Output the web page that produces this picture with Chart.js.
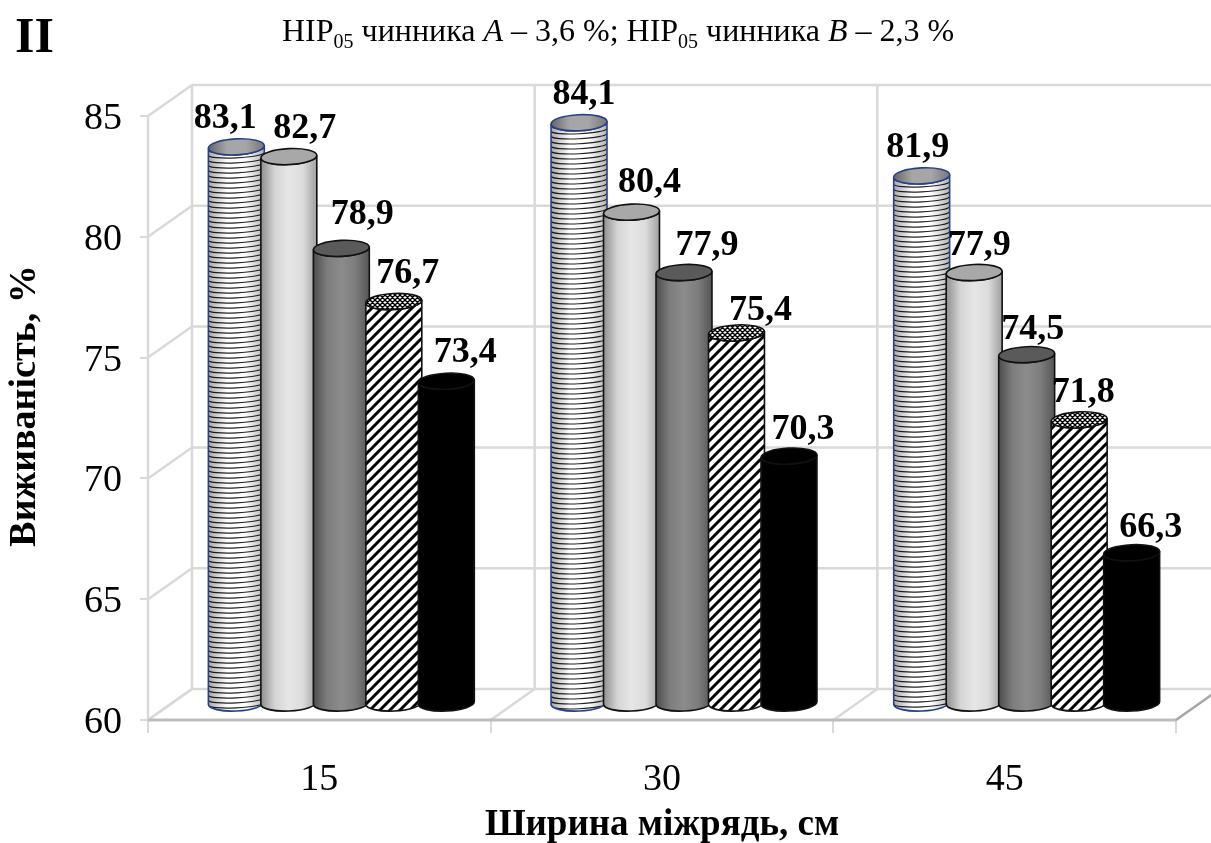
<!DOCTYPE html>
<html>
<head>
<meta charset="utf-8">
<title>Виживаність</title>
<script src="https://cdn.jsdelivr.net/npm/chart.js@4"></script>
<style>
  body { margin: 0; background: #fff; }
  canvas { display: block; }
</style>
</head>
<body>
<canvas id="chart" width="1211" height="843"></canvas>
<script>
// --- DATA ---
const categories = ['15', '30', '45'];
const seriesA = [83.1, 84.1, 81.9];
const seriesB = [82.7, 80.4, 77.9];
const seriesC = [78.9, 77.9, 74.5];
const seriesD = [76.7, 75.4, 71.8];
const seriesE = [73.4, 70.3, 66.3];
const allSeries = [seriesA, seriesB, seriesC, seriesD, seriesE];
const yTickValues = [60, 65, 70, 75, 80, 85];

// hand placed data labels, same as the original (dx, dy from cylinder cap)
const labelShiftX = [[-11, 5, -4], [16, 18, 5], [21, 23, 6], [14, 24, 4], [19, 14, 19]];
const labelShiftY = [[-28, -28, -28], [-28, -29, -27], [-34, -27, -25], [-28, -22, -27], [-29, -26, -25]];

// --- 3D LOOK ---
const SERIF = '"Liberation Serif", serif';
const depthX = 44, depthY = -31;   // front plane to back wall
const barDX = 22, barDY = -15;     // front plane to cylinder plane
const capRy = 8, tilt = -0.05;
const gridColor = '#d9d9d9';

function makeHatch(size, lineWidth, cross) {
  const c = document.createElement('canvas');
  c.width = c.height = size;
  const g = c.getContext('2d');
  g.fillStyle = '#fff';
  g.fillRect(0, 0, size, size);
  g.strokeStyle = '#000';
  g.lineWidth = lineWidth;
  g.beginPath();
  g.moveTo(-size, size); g.lineTo(size, -size);
  g.moveTo(0, size * 2); g.lineTo(size * 2, 0);
  g.moveTo(-size, size * 2); g.lineTo(size * 2, -size);
  if (cross) {
    g.moveTo(0, 0); g.lineTo(size, size);
    g.moveTo(-size, 0); g.lineTo(size, size * 2);
    g.moveTo(0, -size); g.lineTo(size * 2, size);
  }
  g.stroke();
  return c;
}

function sideGradient(ctx, cx, rx, stops) {
  const grad = ctx.createLinearGradient(cx - rx, 0, cx + rx, 0);
  stops.forEach((s, i) => grad.addColorStop(i / (stops.length - 1), s));
  return grad;
}

function bodyPath(ctx, cx, top, bottom, rx) {
  ctx.beginPath();
  ctx.ellipse(cx, bottom, rx, capRy, tilt, Math.PI, 0, true);
  ctx.ellipse(cx, top, rx, capRy, tilt, 0, Math.PI, false);
  ctx.closePath();
}

function capPath(ctx, cx, top, rx) {
  ctx.beginPath();
  ctx.ellipse(cx, top, rx, capRy, tilt, 0, Math.PI * 2);
  ctx.closePath();
}

function drawCylinder(ctx, kind, cx, top, bottom, rx) {
  ctx.save();
  let border = '#111';
  let capFill = '#a8a8a8';
  bodyPath(ctx, cx, top, bottom, rx);
  if (kind === 0) {
    border = '#27408b';
    ctx.fillStyle = '#fff';
    ctx.fill();
    ctx.save();
    ctx.clip();
    ctx.strokeStyle = '#222';
    ctx.lineWidth = 1.2;
    for (let y = top - capRy; y < bottom + capRy; y += 5) {
      ctx.beginPath();
      ctx.ellipse(cx, y, rx, 4, tilt, Math.PI, 0, true);
      ctx.stroke();
    }
    ctx.fillStyle = sideGradient(ctx, cx, rx, ['rgba(0,0,0,.35)', 'rgba(0,0,0,0)', 'rgba(0,0,0,0)', 'rgba(0,0,0,.3)']);
    ctx.fillRect(cx - rx, top - capRy, rx * 2, bottom - top + capRy * 2);
    ctx.restore();
    capFill = sideGradient(ctx, cx, rx, ['#666', '#a6a6a6', '#a6a6a6', '#777']);
  } else if (kind === 1) {
    ctx.fillStyle = sideGradient(ctx, cx, rx, ['#8f8f8f', '#d4d4d4', '#e6e6e6', '#dcdcdc', '#a0a0a0']);
    ctx.fill();
  } else if (kind === 2) {
    ctx.fillStyle = sideGradient(ctx, cx, rx, ['#4d4d4d', '#7d7d7d', '#8c8c8c', '#7d7d7d', '#555']);
    ctx.fill();
    capFill = '#5a5a5a';
  } else if (kind === 3) {
    ctx.fillStyle = ctx.createPattern(makeHatch(10, 3, false), 'repeat');
    ctx.fill();
    capFill = ctx.createPattern(makeHatch(5, 1.4, true), 'repeat');
  } else {
    ctx.fillStyle = '#000';
    ctx.fill();
    capFill = '#000';
  }
  ctx.strokeStyle = border;
  ctx.lineWidth = 1.6;
  bodyPath(ctx, cx, top, bottom, rx);
  ctx.stroke();
  capPath(ctx, cx, top, rx);
  ctx.fillStyle = capFill;
  ctx.fill();
  ctx.stroke();
  ctx.restore();
}

// --- PLUGINS ---
const backWalls = {
  id: 'backWalls',
  beforeDatasetsDraw(chart) {
    const { ctx, scales: { x, y } } = chart;
    const line = (x1, y1, x2, y2, color, w) => {
      ctx.beginPath();
      ctx.moveTo(x1, y1);
      ctx.lineTo(x2, y2);
      ctx.strokeStyle = color || gridColor;
      ctx.lineWidth = w || 2.5;
      ctx.stroke();
    };
    const step = x.width / categories.length;
    const floorY = y.getPixelForValue(yTickValues[0]);
    const topY = y.getPixelForValue(yTickValues[yTickValues.length - 1]);
    ctx.save();
    // back wall grid and left wall slants
    yTickValues.forEach(v => {
      const py = y.getPixelForValue(v);
      line(x.left, py, x.left + depthX, py + depthY);
      line(x.left + depthX, py + depthY, chart.width + 5, py + depthY);
    });
    line(x.left, floorY, x.left, topY);
    // back wall verticals and floor slants
    for (let i = 0; i < categories.length; i++) {
      const px = x.left + step * i;
      line(px + depthX, floorY + depthY, px + depthX, topY + depthY);
      line(px, floorY, px + depthX, floorY + depthY);
    }
    line(x.left, floorY, x.right, floorY, '#bdbdbd', 3);
    line(x.right, floorY, x.right + depthX, floorY + depthY, '#a6a6a6', 2.5);
    ctx.restore();
  },
  afterDatasetsDraw(chart) {
    const { ctx } = chart;
    chart.data.datasets.forEach((ds, i) => {
      chart.getDatasetMeta(i).data.forEach(el => {
        drawCylinder(ctx, i, el.x + barDX, el.y + barDY, el.base + barDY - 1, el.width / 2);
      });
    });
    ctx.save();
    ctx.font = 'bold 36px ' + SERIF;
    ctx.fillStyle = '#000';
    ctx.textAlign = 'center';
    ctx.textBaseline = 'middle';
    chart.data.datasets.forEach((ds, i) => {
      chart.getDatasetMeta(i).data.forEach((el, j) => {
        const text = ds.data[j].toFixed(1).replace('.', ',');
        ctx.fillText(text, el.x + barDX + labelShiftX[i][j], el.y + barDY + labelShiftY[i][j]);
      });
    });
    ctx.restore();
  }
};

const pageText = {
  id: 'pageText',
  afterDraw(chart) {
    const { ctx } = chart;
    ctx.save();
    ctx.fillStyle = '#000';
    ctx.textBaseline = 'alphabetic';
    ctx.textAlign = 'left';
    ctx.font = 'bold 50px ' + SERIF;
    ctx.fillText('II', 15, 52);

    // significance line, with subscripts and italics
    const parts = [
      ['НІР', '32px'], ['05', '20px', 7], [' чинника ', '32px'], ['A', 'italic 32px'], [' – 3,6 %; НІР', '32px'],
      ['05', '20px', 7], [' чинника ', '32px'], ['B', 'italic 32px'], [' – 2,3 %', '32px']
    ];
    let px = 282;
    parts.forEach(p => {
      ctx.font = p[1] + ' ' + SERIF;
      ctx.fillText(p[0], px, 41 + (p[2] || 0));
      px += ctx.measureText(p[0]).width;
    });

    ctx.translate(25, 406);
    ctx.rotate(-Math.PI / 2);
    ctx.textAlign = 'center';
    ctx.textBaseline = 'middle';
    ctx.font = 'bold 38px ' + SERIF;
    ctx.fillText('Виживаність, %', 0, 0);
    ctx.restore();
  }
};

// --- CHART ---
new Chart(document.getElementById('chart'), {
  type: 'bar',
  data: {
    labels: categories,
    datasets: allSeries.map(values => ({
      data: values,
      base: yTickValues[0],
      backgroundColor: 'rgba(0,0,0,0)',
      categoryPercentage: 0.766,
      barPercentage: 1.067
    }))
  },
  options: {
    responsive: false,
    animation: false,
    layout: { padding: { top: 116, right: 35, left: 0, bottom: 0 } },
    plugins: { legend: { display: false }, tooltip: { enabled: false } },
    scales: {
      x: {
        afterFit: s => { s.height = 123; },
        grid: { drawOnChartArea: false, drawTicks: true, tickLength: 13, tickColor: gridColor, lineWidth: 2, offset: true },
        border: { display: false },
        ticks: { color: '#000', padding: 24, maxRotation: 0, font: { family: SERIF, size: 38 } },
        title: { display: true, text: 'Ширина міжрядь, см', color: '#000', padding: { top: 0, bottom: -5 }, font: { family: SERIF, size: 37, weight: 'bold' } }
      },
      y: {
        min: 60,
        max: 85,
        afterFit: s => { s.width = 148; },
        afterBuildTicks: s => { s.ticks = yTickValues.map(v => ({ value: v })); },
        grid: { drawOnChartArea: false, drawTicks: true, tickLength: 8, tickColor: gridColor, lineWidth: 2 },
        border: { display: false },
        ticks: { color: '#000', padding: 18, labelOffset: 3, font: { family: SERIF, size: 38 } }
      }
    }
  },
  plugins: [backWalls, pageText]
});
</script>
</body>
</html>
